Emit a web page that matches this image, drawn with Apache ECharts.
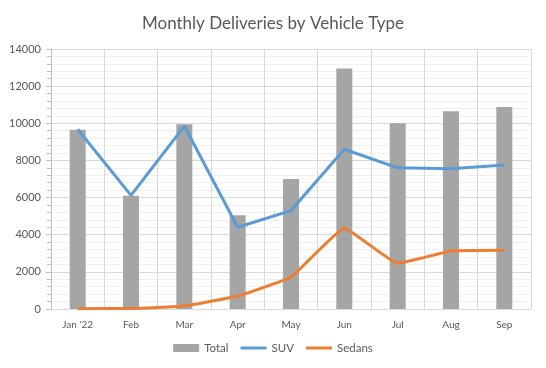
<!DOCTYPE html>
<html><head><meta charset="utf-8">
<script src="https://cdn.jsdelivr.net/npm/echarts@6/dist/echarts.min.js"></script>
<style>html,body{margin:0;padding:0;background:#fff}#c{width:546px;height:368px}</style>
</head><body><div id="c"></div>
<script>
var categories = ["Jan '22","Feb","Mar","Apr","May","Jun","Jul","Aug","Sep"];
var totalValues = [9650, 6100, 9950, 5050, 7000, 12950, 10000, 10650, 10880];
var suvValues = [9680, 6120, 9850, 4400, 5300, 8600, 7600, 7550, 7750];
var sedanValues = [20, 30, 160, 700, 1720, 4350, 2460, 3120, 3160];
var yTicks = {min: 0, max: 14000, interval: 2000};

var font = 'Lato, "Open Sans", sans-serif';
var chart = echarts.init(document.getElementById('c'));
chart.setOption({
  animation: false,
  title: {text: 'Monthly Deliveries by Vehicle Type', left: 'center', top: 10,
    textStyle: {fontFamily: font, fontSize: 17, fontWeight: 'normal', color: '#595959'}},
  legend: {bottom: 9, itemGap: 12, itemWidth: 26, itemHeight: 8,
    textStyle: {fontFamily: font, fontSize: 11.5, color: '#595959'},
    data: [{name: 'Total', icon: 'rect'},
           {name: 'SUV', icon: 'path://M0,3 L26,3 L26,6 L0,6 Z'},
           {name: 'Sedans', icon: 'path://M0,3 L26,3 L26,6 L0,6 Z'}]},
  grid: {left: 51, right: 15, top: 49, bottom: 59},
  xAxis: {type: 'category', data: categories, boundaryGap: true,
    axisLine: {lineStyle: {color: '#d9d9d9'}},
    axisTick: {show: false},
    axisLabel: {fontFamily: font, fontSize: 10, color: '#595959', margin: 11},
    splitLine: {show: true, lineStyle: {color: '#d9d9d9', width: 1}}},
  yAxis: {type: 'value', min: yTicks.min, max: yTicks.max, interval: yTicks.interval,
    axisLine: {show: true, lineStyle: {color: '#bfbfbf'}},
    axisTick: {show: true, length: 5, lineStyle: {color: '#bfbfbf'}},
    minorTick: {show: true, splitNumber: 5, length: 4, lineStyle: {color: '#bfbfbf'}},
    axisLabel: {fontFamily: font, fontSize: 11, color: '#595959', margin: 10,
      formatter: function (v) { return String(v); }},
    splitLine: {show: true, lineStyle: {color: '#d9d9d9'}},
    minorSplitLine: {show: true, lineStyle: {color: '#f0f0f0'}}},
  series: [
    {name: 'Total', type: 'bar', data: totalValues, barWidth: 16, itemStyle: {color: '#a5a5a5'}},
    {name: 'SUV', type: 'line', data: suvValues, symbol: 'none', lineStyle: {color: '#5b9bd5', width: 3}, itemStyle: {color: '#5b9bd5'}},
    {name: 'Sedans', type: 'line', data: sedanValues, symbol: 'none', smooth: 0.1, lineStyle: {color: '#ed7d31', width: 3}, itemStyle: {color: '#ed7d31'}}
  ]
});
</script></body></html>
